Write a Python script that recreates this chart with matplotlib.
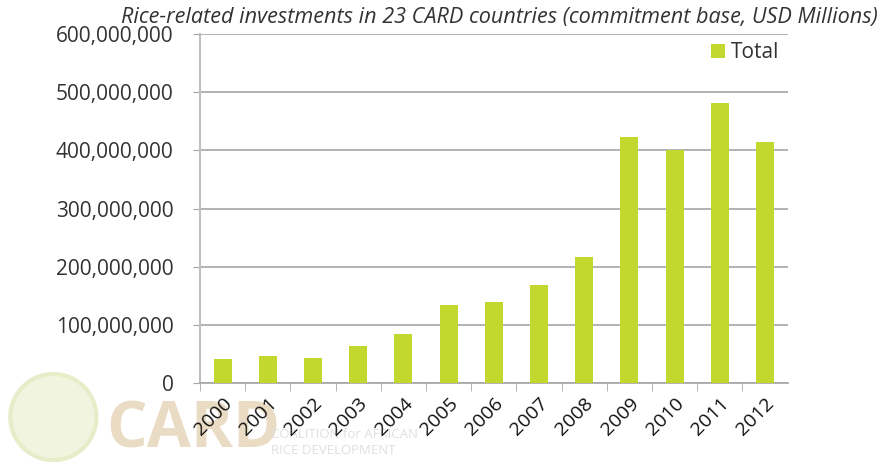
import numpy as np
import matplotlib
matplotlib.use("Agg")
import matplotlib.pyplot as plt
from matplotlib.patches import Circle

years = ["2000", "2001", "2002", "2003", "2004", "2005", "2006",
         "2007", "2008", "2009", "2010", "2011", "2012"]
totals = [41e6, 47e6, 43.5e6, 64e6, 85e6, 134e6, 138.5e6,
          168e6, 217e6, 423e6, 400e6, 481e6, 414.5e6]
yticks = [0, 100e6, 200e6, 300e6, 400e6, 500e6, 600e6]

plt.rcParams['font.family'] = ['Open Sans', 'DejaVu Sans']
txt = "#333333"

fig = plt.figure(figsize=(8.89, 4.66), dpi=100)
ax = fig.add_axes([0.225, 0.178, 0.661, 0.749])

x = np.arange(len(years))
ax.bar(x, totals, width=0.4, color="#c2d82e", label="Total", zorder=3)

ax.set_ylim(0, 600e6)
ax.set_xlim(-0.5, len(years) - 0.5)
ax.set_yticks(yticks)
ax.set_yticklabels([f"{int(v):,}" for v in yticks], fontsize=15, color=txt)
ax.yaxis.grid(True, color="#a6a6a6", linewidth=1.2, zorder=0)
ax.tick_params(axis="y", length=5, color="#a6a6a6", pad=14)

# category ticks sit between the bars
ax.set_xticks(x - 0.5, minor=True)
ax.set_xticks(x)
ax.set_xticklabels(years, rotation=45, ha="right", rotation_mode="anchor",
                   fontsize=14, color="#111111")
ax.tick_params(axis="x", which="major", length=0, pad=8)
ax.tick_params(axis="x", which="minor", length=6, color="#a6a6a6")

for s in ["top", "right"]:
    ax.spines[s].set_visible(False)
ax.spines["left"].set_color("#bfbfbf")
ax.spines["left"].set_linewidth(1.5)
ax.spines["bottom"].set_color("#a6a6a6")
ax.spines["bottom"].set_linewidth(1.2)

leg = ax.legend(loc="upper right", frameon=False, fontsize=15, handlelength=0.65,
                handleheight=0.65, handletextpad=0.3, borderaxespad=0.0)
for t in leg.get_texts():
    t.set_color(txt)

fig.text(0.562, 0.963, "Rice-related investments in 23 CARD countries (commitment base, USD Millions)",
         ha="center", va="center", fontsize=15.6, style="italic", color=txt)

# faded CARD logo watermark
logo = fig.add_axes([0.0, 0.0, 0.12, 0.21], zorder=-1)
logo.set_xlim(0, 1)
logo.set_ylim(0, 1)
logo.set_aspect("equal")
logo.axis("off")
logo.add_patch(Circle((0.5, 0.5), 0.44, facecolor="#f1f5e0", edgecolor="#e6edc8", linewidth=3))
fig.text(0.12, 0.04, "CARD", fontsize=46, fontweight="bold", color="#eadcc4", zorder=-1)
fig.text(0.305, 0.06, "COALITION for AFRICAN", fontsize=9.5, color="#e0e0e0", zorder=-1)
fig.text(0.305, 0.025, "RICE DEVELOPMENT", fontsize=9.5, color="#e0e0e0", zorder=-1)

fig.savefig("out.png", dpi=100)
